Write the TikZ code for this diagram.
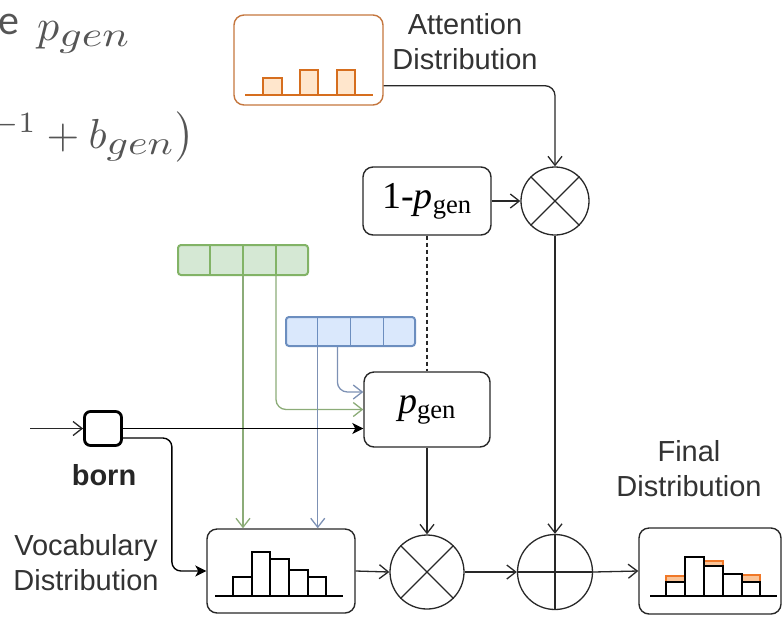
\documentclass[tikz,border=0pt]{standalone}
\usepackage{fontspec}
\setmainfont{Liberation Sans}
\newfontfamily\serifA{Liberation Serif}
\newfontfamily\carl{Carlito}
\usepackage{graphicx}
\usetikzlibrary{arrows.meta,calc}
\definecolor{txt}{RGB}{51,51,51}
\definecolor{mathgray}{RGB}{85,85,85}
\definecolor{attbox}{RGB}{196,118,62}
\definecolor{attbar}{RGB}{214,110,30}
\definecolor{attfill}{RGB}{255,230,204}
\definecolor{gfill}{RGB}{213,232,212}
\definecolor{gdraw}{RGB}{130,179,102}
\definecolor{glinec}{RGB}{140,172,120}
\definecolor{bfill}{RGB}{218,232,252}
\definecolor{bdraw}{RGB}{108,142,191}
\definecolor{blinec}{RGB}{125,145,180}
\definecolor{capfill}{RGB}{250,195,150}
\definecolor{capdraw}{RGB}{240,120,40}
\definecolor{linec}{RGB}{40,40,40}
\begin{document}
\begin{tikzpicture}[x=1pt, y=-1pt,
  openarrow/.style={-{Straight Barb[length=9pt,width=14pt]}},
  conn/.style={line width=1.3pt, draw=linec, openarrow},
  fconn/.style={line width=1.4pt, draw=black, -{Stealth[length=11pt,width=11pt,inset=3pt]}},
  gconn/.style={line width=1.3pt, draw=glinec, openarrow},
  bconn/.style={line width=1.3pt, draw=blinec, openarrow},
  rbox/.style={draw=linec, line width=1.4pt, rounded corners=10pt, inner sep=0pt},
  opcircle/.style={circle, draw=linec, line width=1.3pt, inner sep=0pt},
  lab/.style={text=txt, font=\fontsize{29}{35}\selectfont, align=center},
  vecbar/.style={line width=2pt, rounded corners=3pt, inner sep=0pt},
  histo/.style={line width=1.6pt, draw=black},
  pg/.style={font=\serifA\fontsize{38}{42}\selectfont}
]
\useasboundingbox (0,0) rectangle (783,619);
\clip (0,0) rectangle (783,619);

% fragments of a formula at the top left
\node[anchor=base west, inner sep=0pt, text=mathgray] (efrag) at (-2,34) {\carl\fontsize{42}{48}\selectfont e};
\node[anchor=base west, inner sep=0pt, text=mathgray] (pfrag) at (37,40) {\scalebox{4.4}{$p_{\scalebox{1.0}[0.8]{$gen$}}$}};
\node[anchor=base west, inner sep=0pt, text=mathgray] (bfrag) at (-8,148) {\scalebox{4.2}{${}^{-1}+b_{\scalebox{1.0}[0.8]{$gen$}}\bigr)$}};

% attention distribution
\node[rbox, draw=attbox, minimum width=149pt, minimum height=90pt] (att) at (308.5,60) {};
\draw[line width=1.6pt, draw=attbar] (245,95) -- (373,95);
\draw[line width=1.4pt, draw=attbar, fill=attfill] (263,95) rectangle (282,78);
\draw[line width=1.4pt, draw=attbar, fill=attfill] (300,95) rectangle (318,70);
\draw[line width=1.4pt, draw=attbar, fill=attfill] (337,95) rectangle (355,70);
\node[lab] (attlab) at (465,42) {Attention\\Distribution};

% 1 - p_gen and top multiplication
\node[rbox, minimum width=128pt, minimum height=68pt, pg] (onem) at (427,201) {1-\textit{p}\textsubscript{gen}};
\node[opcircle, minimum size=68pt] (mul1) at (555,201) {};
\draw[line width=1.2pt, draw=linec] (mul1.north west) -- (mul1.south east) (mul1.north east) -- (mul1.south west);

% context vectors
\node[vecbar, draw=gdraw, fill=gfill, minimum width=130pt, minimum height=30pt] (green) at (243,260) {};
\foreach \f in {0.25,0.5,0.75}
  \draw[line width=1.3pt, draw=gdraw] ($(green.north west)!\f!(green.north east)$) -- ($(green.south west)!\f!(green.south east)$);
\node[vecbar, draw=bdraw, fill=bfill, minimum width=129pt, minimum height=29pt] (blue) at (350.5,331.5) {};
\foreach \f in {0.25,0.5,0.75}
  \draw[line width=1.3pt, draw=bdraw] ($(blue.north west)!\f!(blue.north east)$) -- ($(blue.south west)!\f!(blue.south east)$);

% p_gen
\node[rbox, minimum width=126pt, minimum height=75pt, pg] (pgen) at (427,409.5) {\textit{p}\textsubscript{gen}};

% input word
\node[draw=black, line width=2.8pt, rounded corners=6pt, minimum width=37pt, minimum height=34pt, inner sep=0pt] (born) at (103,428.5) {};
\node[text=black!85, font=\bfseries\fontsize{29}{35}\selectfont] (bornlab) at (104,475) {born};
\coordinate (inp) at (30,428.5);

% vocabulary distribution
\node[rbox, minimum width=148pt, minimum height=84pt] (vocab) at (281,571) {};
\node[lab] (vocablab) at (86,563) {Vocabulary\\Distribution};
\draw[histo] (215,596) -- (343,596);
\draw[histo] (233,596) rectangle (252,577);
\draw[histo] (252,596) rectangle (270,552);
\draw[histo] (270,596) rectangle (289,559);
\draw[histo] (289,596) rectangle (308,570);
\draw[histo] (308,596) rectangle (326,577);

% operations
\node[opcircle, minimum size=74pt] (mul2) at (427,572) {};
\draw[line width=1.2pt, draw=linec] (mul2.north west) -- (mul2.south east) (mul2.north east) -- (mul2.south west);
\node[opcircle, minimum size=75pt] (plus) at (555,572) {};
\draw[line width=1.2pt, draw=linec] (plus.north) -- (plus.south) (plus.west) -- (plus.east);

% final distribution
\node[rbox, minimum width=142pt, minimum height=86pt] (final) at (710,571) {};
\node[lab] (finallab) at (689,469) {Final\\Distribution};
\draw[histo] (650,596) -- (777,596);
\draw[line width=1.2pt, draw=capdraw, fill=capfill] (666,582) rectangle (685,576);
\draw[line width=1.2pt, draw=capdraw, fill=capfill] (704,566) rectangle (723,561);
\draw[line width=1.2pt, draw=capdraw, fill=capfill] (742,582) rectangle (760,575);
\draw[histo] (666,596) rectangle (685,582);
\draw[histo] (685,596) rectangle (704,557);
\draw[histo] (704,596) rectangle (723,566);
\draw[histo] (723,596) rectangle (742,574);
\draw[histo] (742,596) rectangle (760,582);

% connectors
\draw[conn, rounded corners=10pt] ($(att.south east)+(0,-20)$) -| (mul1.north);
\draw[conn] (onem.east) -- (mul1.west);
\draw[line width=1.2pt, draw=linec, dash pattern=on 4pt off 3pt] (onem.south) -- (pgen.north);
\draw[gconn] (green.south) -- (green.south |- vocab.north);
\coordinate (g2) at ($(green.south)!0.5!(green.south east)$);
\draw[gconn, rounded corners=10pt] (g2) |- (pgen.west);
\coordinate (b1) at ($(blue.south west)!0.25!(blue.south east)$);
\draw[bconn] (b1) -- (b1 |- vocab.north);
\coordinate (b2) at ($(blue.south west)!0.4!(blue.south east)$);
\draw[bconn, rounded corners=10pt] (b2) |- ($(pgen.west)+(0,-17.5)$);
\draw[conn] (inp) -- (born.west);
\draw[fconn] (born.east) -- (born.east -| pgen.west);
\draw[fconn, rounded corners=9pt] ($(born.east)+(0,9.5)$) -- ++(49,0) |- (vocab.west);
\draw[conn] (pgen.south) -- (mul2.north);
\draw[conn] (mul1.south) -- (plus.north);
\draw[conn] (vocab.east) -- (mul2.west);
\draw[conn] (mul2.east) -- (plus.west);
\draw[conn] (plus.east) -- (final.west);
\end{tikzpicture}
\end{document}
